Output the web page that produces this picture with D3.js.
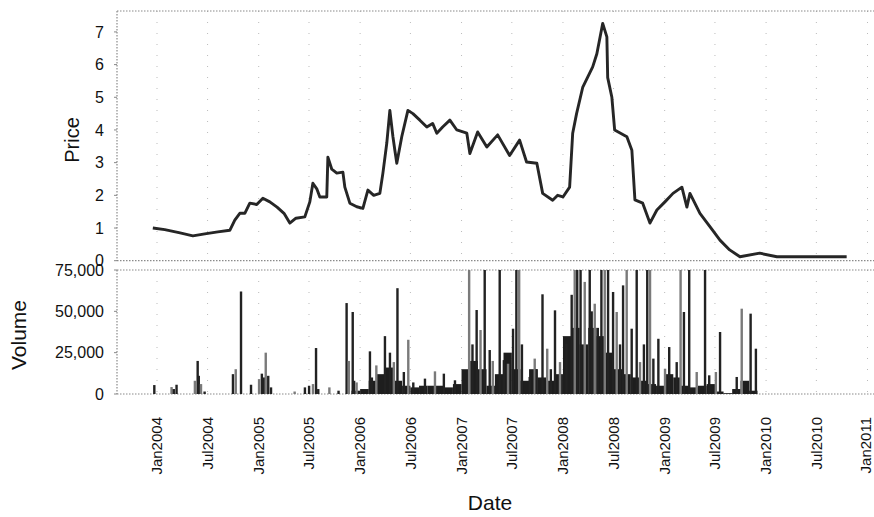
<!DOCTYPE html>
<html>
<head>
<meta charset="utf-8">
<script src="https://cdn.jsdelivr.net/npm/d3@7"></script>
<style>
  html, body { margin: 0; padding: 0; background: #fff; }
  svg { display: block; }
  text { font-family: "Liberation Sans", "DejaVu Sans", sans-serif; fill: #111; }
</style>
</head>
<body>
<svg id="chart" width="874" height="517"></svg>
<script>
// ---------------- DATA ----------------
const priceDates = ["2003-12-17","2004-01-29","2004-03-24","2004-05-09","2004-06-21","2004-08-07","2004-09-19","2004-10-07","2004-10-25","2004-11-12","2004-11-30","2004-12-25","2005-01-16","2005-02-10","2005-03-08","2005-04-02","2005-04-23","2005-05-15","2005-06-16","2005-07-04","2005-07-15","2005-07-29","2005-08-09","2005-09-03","2005-09-07","2005-09-21","2005-10-09","2005-10-31","2005-11-07","2005-11-25","2005-12-20","2006-01-11","2006-01-29","2006-02-19","2006-03-13","2006-03-24","2006-04-07","2006-04-18","2006-04-29","2006-05-06","2006-05-13","2006-05-31","2006-06-22","2006-07-10","2006-08-04","2006-08-29","2006-09-19","2006-10-04","2006-10-25","2006-11-20","2006-12-15","2007-01-20","2007-01-31","2007-02-28","2007-04-02","2007-05-11","2007-06-23","2007-07-29","2007-08-23","2007-09-29","2007-10-20","2007-11-25","2007-12-13","2008-01-01","2008-01-25","2008-02-05","2008-02-19","2008-03-12","2008-04-17","2008-05-02","2008-05-23","2008-06-07","2008-06-10","2008-06-25","2008-07-05","2008-08-18","2008-09-05","2008-09-16","2008-10-14","2008-11-09","2008-12-04","2009-01-02","2009-01-31","2009-03-04","2009-03-22","2009-04-02","2009-05-08","2009-06-23","2009-07-19","2009-08-23","2009-09-29","2009-12-09","2010-02-09","2010-10-18"];
const priceValues = [1.0,0.95,0.85,0.76,0.82,0.88,0.93,1.24,1.45,1.45,1.76,1.72,1.91,1.8,1.64,1.45,1.15,1.3,1.34,1.8,2.37,2.2,1.95,1.95,3.17,2.8,2.68,2.71,2.25,1.76,1.65,1.6,2.16,2.0,2.06,2.68,3.6,4.6,3.8,3.38,2.98,3.8,4.6,4.5,4.3,4.09,4.2,3.9,4.09,4.3,4.0,3.9,3.28,3.94,3.48,3.85,3.22,3.69,3.02,2.98,2.06,1.85,2.0,1.95,2.25,3.9,4.5,5.3,5.93,6.33,7.26,6.85,5.6,5.0,4.0,3.79,3.38,1.86,1.76,1.15,1.55,1.8,2.06,2.25,1.64,2.06,1.45,0.93,0.63,0.33,0.12,0.23,0.12,0.12];

const volDates = ["2003-12-22","2004-02-22","2004-03-01","2004-03-11","2004-05-16","2004-05-26","2004-05-30","2004-06-07","2004-06-20","2004-09-30","2004-10-10","2004-10-29","2004-12-04","2005-01-02","2005-01-12","2005-01-20","2005-01-26","2005-02-04","2005-02-14","2005-05-10","2005-06-16","2005-07-01","2005-07-15","2005-07-26","2005-08-03","2005-09-12","2005-10-15","2005-11-13","2005-11-21","2005-12-05","2005-12-10","2005-12-19","2006-02-05","2006-02-12","2006-02-28","2006-03-31","2006-04-18","2006-05-02","2006-05-15","2006-06-07","2006-06-23","2006-07-11","2006-08-22","2006-09-27","2006-10-29","2006-12-08","2007-01-28","2007-02-09","2007-02-24","2007-03-10","2007-03-25","2007-04-12","2007-04-23","2007-05-18","2007-06-02","2007-06-17","2007-07-05","2007-07-17","2007-07-27","2007-08-06","2007-09-03","2007-09-21","2007-09-28","2007-10-19","2007-11-05","2007-11-18","2007-12-03","2007-12-21","2008-01-13","2008-02-01","2008-02-12","2008-02-21","2008-03-04","2008-03-19","2008-04-06","2008-04-13","2008-04-24","2008-05-05","2008-05-18","2008-05-30","2008-06-11","2008-06-29","2008-07-12","2008-07-24","2008-08-04","2008-08-17","2008-09-04","2008-09-22","2008-10-04","2008-10-18","2008-10-30","2008-11-09","2008-11-21","2008-12-09","2009-01-02","2009-01-17","2009-02-13","2009-02-27","2009-03-11","2009-03-30","2009-04-26","2009-05-26","2009-06-10","2009-07-04","2009-07-19","2009-09-17","2009-10-05","2009-11-06","2009-11-25"];
const volValues = [5400,4200,3000,5600,8000,20000,11000,6000,1500,12000,15000,62000,5600,9000,12300,10000,25000,11000,4000,1500,4000,5000,6000,27800,3000,4000,2000,55000,20000,49600,8000,7000,25800,10000,17300,35000,25000,19300,64000,13300,32800,7000,9300,13700,12300,8300,75000,30000,50800,38700,75000,26600,20000,75000,20500,18300,39500,75000,75000,30000,10300,21400,15000,60300,27400,15000,50600,19300,30400,60000,75000,75000,75000,67800,75000,50000,54600,40000,75000,75000,75000,61700,49600,30000,65700,75000,39500,75000,19300,30000,75000,75000,21400,33400,15300,28400,19300,75000,49600,75000,13300,75000,11300,13300,37500,10300,51600,48600,27400];

// dense daily trading volume, summarised per month
const floorMonths = ["2005-12","2006-01","2006-02","2006-03","2006-04","2006-05","2006-06","2006-07","2006-08","2006-09","2006-10","2006-11","2006-12","2007-01","2007-02","2007-03","2007-04","2007-05","2007-06","2007-07","2007-08","2007-09","2007-10","2007-11","2007-12","2008-01","2008-02","2008-03","2008-04","2008-05","2008-06","2008-07","2008-08","2008-09","2008-10","2008-11","2008-12","2009-01","2009-02","2009-03","2009-04","2009-05","2009-06","2009-07","2009-08","2009-09","2009-10","2009-11"];
const floorVolumes = [2000,3000,8000,12000,16000,8000,5000,4000,5000,5000,5000,4000,6000,15000,20000,15000,5000,12000,25000,15000,8000,15000,10000,8000,12000,35000,40000,30000,40000,35000,25000,15000,12000,10000,8000,6000,5000,12000,10000,5000,4000,5000,6000,1500,500,3000,8000,2000];

const priceTicks = [0,1,2,3,4,5,6,7];
const volumeTicks = [0,25000,50000,75000];
const dateTicks = ["2004-01","2004-07","2005-01","2005-07","2006-01","2006-07","2007-01","2007-07","2008-01","2008-07","2009-01","2009-07","2010-01","2010-07","2011-01"];
const dateTickLabels = ["Jan2004","Jul2004","Jan2005","Jul2005","Jan2006","Jul2006","Jan2007","Jul2007","Jan2008","Jul2008","Jan2009","Jul2009","Jan2010","Jul2010","Jan2011"];

// ---------------- CHART ----------------
const svg = d3.select("#chart");
const pDay = d3.timeParse("%Y-%m-%d");
const pMon = d3.timeParse("%Y-%m");

const left = 117, right = 874;
const pxPerYear = 101.5;
const d0 = pMon("2004-01"), d1 = pMon("2011-01");
const x = d3.scaleTime().domain([d0, d1]).range([157, 157 + 7 * pxPerYear]);

const priceTop = 11, priceBot = 260.7;
const yP = d3.scaleLinear().domain([0, 7.64]).range([priceBot, priceTop]);
const volTop = 270, volBot = 394;
const yV = d3.scaleLinear().domain([0, 75000]).range([volBot, volTop]).clamp(true);

const grid = svg.append("g");
dateTicks.forEach(t => {
  const xx = x(pMon(t));
  if (xx > left && xx < right) {
    grid.append("line").attr("x1", xx).attr("x2", xx).attr("y1", priceTop).attr("y2", priceBot)
      .attr("stroke", "#bbb").attr("stroke-width", 1).attr("stroke-dasharray", "1,10");
    grid.append("line").attr("x1", xx).attr("x2", xx).attr("y1", volTop).attr("y2", volBot)
      .attr("stroke", "#bbb").attr("stroke-width", 1).attr("stroke-dasharray", "1,10");
  }
});

function frame(y1, y2) {
  const g = svg.append("g").attr("stroke", "#8a8a8a").attr("stroke-width", 1.2).attr("stroke-dasharray", "1.5,1.5").attr("fill", "none");
  g.append("line").attr("x1", left).attr("x2", right).attr("y1", y1).attr("y2", y1);
  g.append("line").attr("x1", left).attr("x2", right).attr("y1", y2).attr("y2", y2);
  g.append("line").attr("x1", left).attr("x2", left).attr("y1", y1).attr("y2", y2);
}
frame(priceTop, priceBot);
frame(volTop, volBot);

// price line
const priceData = priceDates.map((d, i) => ({ date: pDay(d), value: priceValues[i] }));
const line = d3.line().x(d => x(d.date)).y(d => yP(d.value));
svg.append("path").datum(priceData).attr("d", line)
  .attr("fill", "none").attr("stroke", "#262626").attr("stroke-width", 2.9)
  .attr("stroke-linejoin", "round");

// volume: dense monthly floor
const floorData = floorMonths.map((m, i) => ({ start: pMon(m), end: d3.timeMonth.offset(pMon(m), 1), value: floorVolumes[i] }));
svg.append("g").selectAll("rect").data(floorData).join("rect")
  .attr("x", d => x(d.start)).attr("width", d => x(d.end) - x(d.start))
  .attr("y", d => yV(d.value)).attr("height", d => volBot - yV(d.value))
  .attr("fill", "#1e1e1e");

// volume spikes
const volData = volDates.map((d, i) => ({ date: pDay(d), value: volValues[i] }));
svg.append("g").selectAll("rect").data(volData).join("rect")
  .attr("x", d => x(d.date) - 1.1).attr("width", 2.4)
  .attr("y", d => yV(d.value)).attr("height", d => volBot - yV(d.value))
  .attr("fill", (d, i) => i % 3 === 1 ? "#7a7a7a" : "#222");

// axes text
const fmt = d3.format(",");
svg.append("g").selectAll("text").data(priceTicks).join("text")
  .attr("x", 104).attr("y", d => yP(d)).attr("dy", "0.36em")
  .attr("text-anchor", "end").attr("font-size", 16).text(d => d);
svg.append("g").selectAll("text").data(volumeTicks).join("text")
  .attr("x", 104).attr("y", d => yV(d)).attr("dy", "0.36em")
  .attr("text-anchor", "end").attr("font-size", 16).text(d => fmt(d));

svg.append("g").selectAll("line").data(priceTicks).join("line")
  .attr("x1", left - 3).attr("x2", left).attr("y1", d => yP(d)).attr("y2", d => yP(d))
  .attr("stroke", "#888");
svg.append("g").selectAll("line").data(volumeTicks).join("line")
  .attr("x1", left - 3).attr("x2", left).attr("y1", d => yV(d)).attr("y2", d => yV(d))
  .attr("stroke", "#888");

// date labels (rotated)
svg.append("g").selectAll("text").data(dateTicks).join("text")
  .attr("transform", d => `translate(${Math.min(x(pMon(d)), 866)},417) rotate(-90)`)
  .attr("dy", "0.35em").attr("text-anchor", "end").attr("font-size", 15)
  .text((d, i) => dateTickLabels[i]);

// axis titles
svg.append("text").attr("transform", "translate(72,140) rotate(-90)")
  .attr("text-anchor", "middle").attr("dy", "0.35em").attr("font-size", 20).text("Price");
svg.append("text").attr("transform", "translate(19,335) rotate(-90)")
  .attr("text-anchor", "middle").attr("dy", "0.35em").attr("font-size", 21).text("Volume");
svg.append("text").attr("x", 490).attr("y", 510)
  .attr("text-anchor", "middle").attr("font-size", 21).text("Date");
</script>
</body>
</html>
